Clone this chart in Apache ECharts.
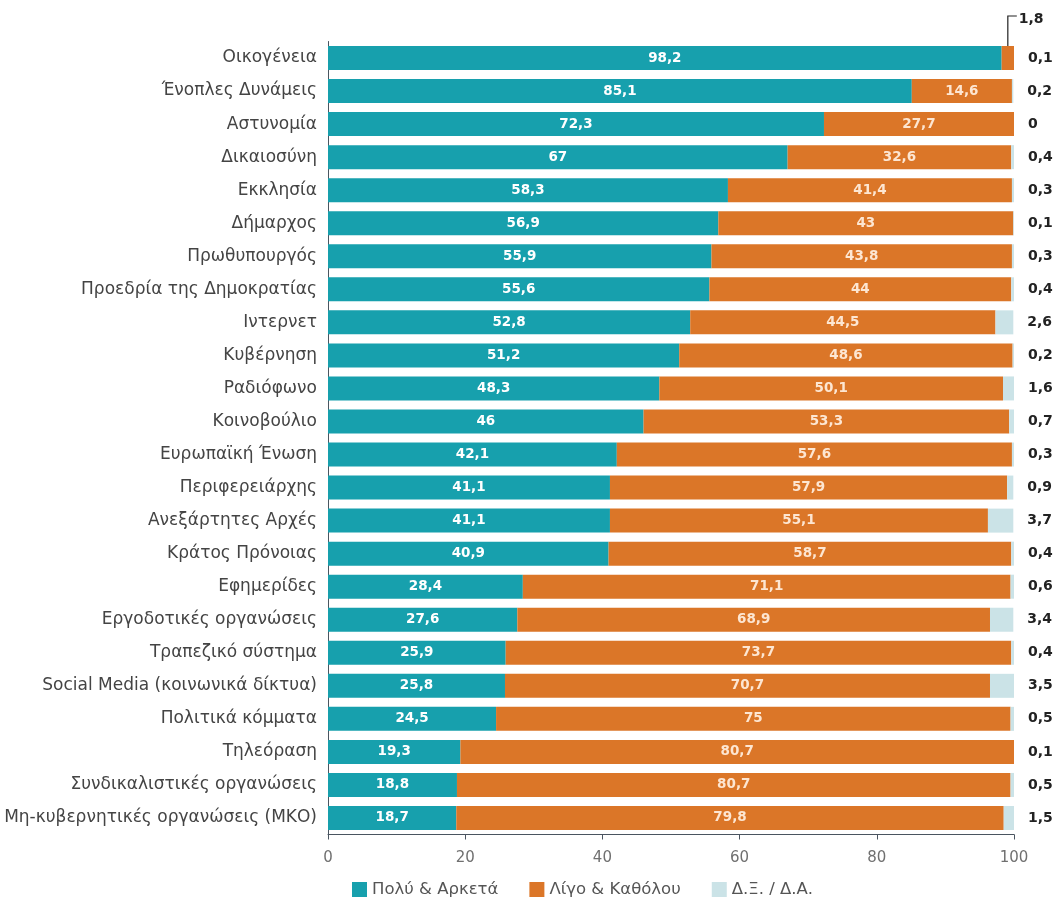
<!DOCTYPE html>
<html>
<head>
<meta charset="utf-8">
<script src="https://cdn.jsdelivr.net/npm/echarts@6/dist/echarts.min.js"></script>
<style>
html,body{margin:0;padding:0;background:#fff;}
#main{width:1055px;height:903px;}
</style>
</head>
<body>
<div id="main"></div>
<script>
var categories = ["Οικογένεια","Ένοπλες Δυνάμεις","Αστυνομία","Δικαιοσύνη","Εκκλησία","Δήμαρχος","Πρωθυπουργός","Προεδρία της Δημοκρατίας","Ιντερνετ","Κυβέρνηση","Ραδιόφωνο","Κοινοβούλιο","Ευρωπαϊκή Ένωση","Περιφερειάρχης","Ανεξάρτητες Αρχές","Κράτος Πρόνοιας","Εφημερίδες","Εργοδοτικές οργανώσεις","Τραπεζικό σύστημα","Social Media (κοινωνικά δίκτυα)","Πολιτικά κόμματα","Τηλεόραση","Συνδικαλιστικές οργανώσεις","Μη-κυβερνητικές οργανώσεις (ΜΚΟ)"];
var seriesNames = ["Πολύ & Αρκετά","Λίγο & Καθόλου","Δ.Ξ. / Δ.Α."];
var highValues = [98.2,85.1,72.3,67,58.3,56.9,55.9,55.6,52.8,51.2,48.3,46,42.1,41.1,41.1,40.9,28.4,27.6,25.9,25.8,24.5,19.3,18.8,18.7];
var lowValues = [1.8,14.6,27.7,32.6,41.4,43,43.8,44,44.5,48.6,50.1,53.3,57.6,57.9,55.1,58.7,71.1,68.9,73.7,70.7,75,80.7,80.7,79.8];
var dkValues = [0.1,0.2,0,0.4,0.3,0.1,0.3,0.4,2.6,0.2,1.6,0.7,0.3,0.9,3.7,0.4,0.6,3.4,0.4,3.5,0.5,0.1,0.5,1.5];
var xTicks = [0,20,40,60,80,100];

var FONT = '"DejaVu Sans", "Noto Sans", sans-serif';
function fmt(v){ return String(v).replace('.', ','); }

var lowData = lowValues.map(function(v, i){
  if (i === 0) {
    return {value: v, label: {show: true, position: [17, -27], align: 'left', verticalAlign: 'middle', color: '#222', fontSize: 14, fontWeight: 'bold', formatter: function(p){ return fmt(p.value); }}};
  }
  return v;
});

var chart = echarts.init(document.getElementById('main'), null, {renderer: 'canvas'});
var option = {
  animation: false,
  backgroundColor: '#ffffff',
  textStyle: {fontFamily: FONT},
  grid: {left: 328, right: 41, top: 41.5, bottom: 68.5, containLabel: false},
  legend: {
    data: seriesNames,
    left: 352, top: 881, padding: 0,
    itemWidth: 15, itemHeight: 15, itemGap: 31,
    icon: 'rect',
    textStyle: {fontFamily: FONT, fontSize: 16.5, color: '#555'}
  },
  xAxis: {
    type: 'value', min: xTicks[0], max: xTicks[xTicks.length-1], interval: 20,
    axisLine: {show: true, lineStyle: {color: '#4a5560', width: 1}},
    axisTick: {show: true, length: 5, lineStyle: {color: '#4a5560'}},
    splitLine: {show: false},
    axisLabel: {fontFamily: FONT, fontSize: 15, color: '#707070', margin: 16}
  },
  yAxis: {
    type: 'category', data: categories, inverse: true,
    axisLine: {show: true, lineStyle: {color: '#4a5560', width: 1}},
    axisTick: {show: false},
    axisLabel: {fontFamily: FONT, fontSize: 17, color: '#444', margin: 11}
  },
  series: [
    {
      name: seriesNames[0], type: 'bar', stack: 'a', barWidth: 24,
      itemStyle: {color: '#17a0ad'},
      label: {show: true, position: 'inside', color: '#ffffff', fontWeight: 'bold', fontSize: 13.5, fontFamily: FONT, formatter: function(p){ return fmt(p.value); }},
      data: highValues
    },
    {
      name: seriesNames[1], type: 'bar', stack: 'a', barWidth: 24,
      itemStyle: {color: '#db7628'},
      label: {show: true, position: 'inside', color: '#fde6d2', fontWeight: 'bold', fontSize: 13.5, fontFamily: FONT, formatter: function(p){ return p.dataIndex === 0 ? '' : fmt(p.value); }},
      data: lowData
    },
    {
      name: seriesNames[2], type: 'bar', stack: 'a', barWidth: 24,
      itemStyle: {color: '#cbe3e7'},
      label: {show: true, position: 'right', distance: 14, color: '#222', fontWeight: 'bold', fontSize: 14, fontFamily: FONT, formatter: function(p){ return fmt(p.value); }},
      data: dkValues
    }
  ]
};
chart.setOption(option);

// bracket for the small "1,8" segment
var p0 = chart.convertToPixel({gridIndex: 0}, [highValues[0] + lowValues[0] / 2, 0]);
var barTop = p0[1] - 12;
chart.setOption({
  graphic: [{
    type: 'polyline', silent: true,
    shape: {points: [[p0[0], barTop], [p0[0], barTop - 30], [p0[0] + 9, barTop - 30]]},
    style: {stroke: '#222', lineWidth: 1.2, fill: null}
  }]
});
</script>
</body>
</html>
